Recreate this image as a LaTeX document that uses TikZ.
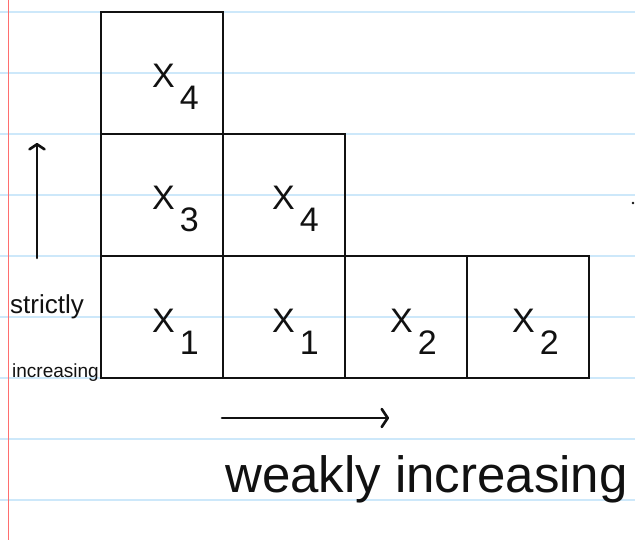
\documentclass[tikz,border=0pt]{standalone}
\usepackage{fontspec}
\setmainfont{Liberation Sans}
\definecolor{ruleBlue}{HTML}{CDE8FA}
\definecolor{marginRed}{HTML}{FF6E6E}
\definecolor{inkBlack}{HTML}{111111}
\usepackage{tikz}
\usetikzlibrary{arrows.meta}

\newcommand{\xentry}[1]{X\hspace{5pt}\raisebox{-22pt}{#1}}

\begin{document}
\begin{tikzpicture}[x=1pt, y=-1pt,
    cell/.style={draw=inkBlack, line width=2.8pt, minimum size=122pt, inner sep=0pt},
    entry/.style={font=\fontsize{34}{34}\selectfont, inner sep=0pt, text=inkBlack, anchor=base west},
    hand/.style={draw=inkBlack, line width=2.6pt, line cap=round}]
  \useasboundingbox (0,0) rectangle (635,540);
  \fill[white] (0,0) rectangle (635,540);
  % ruled paper
  \foreach \y in {12,73,...,500}
    \draw[ruleBlue, line width=1.2pt] (0,\y) -- (635,\y);
  \draw[marginRed, line width=1pt] (8,0) -- (8,540);

  % tableau cells
  \node[cell] (t1) at (162,73) {};
  \node[cell] (m1) at (162,195) {};
  \node[cell] (m2) at (284,195) {};
  \node[cell] (b1) at (162,317) {};
  \node[cell] (b2) at (284,317) {};
  \node[cell] (b3) at (406,317) {};
  \node[cell] (b4) at (528,317) {};

  % entries
  \node[entry] (e-t1) at ([xshift=-10pt,yshift=-15pt]t1.center) {\xentry{4}};
  \node[entry] (e-m1) at ([xshift=-10pt,yshift=-15pt]m1.center) {\xentry{3}};
  \node[entry] (e-m2) at ([xshift=-12pt,yshift=-15pt]m2.center) {\xentry{4}};
  \node[entry] (e-b1) at ([xshift=-10pt,yshift=-15pt]b1.center) {\xentry{1}};
  \node[entry] (e-b2) at ([xshift=-12pt,yshift=-15pt]b2.center) {\xentry{1}};
  \node[entry] (e-b3) at ([xshift=-16pt,yshift=-15pt]b3.center) {\xentry{2}};
  \node[entry] (e-b4) at ([xshift=-16pt,yshift=-15pt]b4.center) {\xentry{2}};

  % directions
  \coordinate (upS) at (37,258);
  \coordinate (upE) at (37,143);
  \draw[hand, -{Straight Barb[length=5pt,width=15pt,round]}] (upS) -- (upE);
  \coordinate (rtS) at (222,418);
  \coordinate (rtE) at (389,418);
  \draw[hand, -{Straight Barb[length=6pt,width=18pt,round]}] (rtS) -- (rtE);

  \node[font=\fontsize{26}{26}\selectfont, inner sep=0pt, anchor=base west, text=inkBlack]
    (strictLbl) at (10,313) {strictly};
  \node[font=\fontsize{19}{19}\selectfont, inner sep=0pt, anchor=base west, text=inkBlack]
    (incLbl) at (12,377) {increasing};
  \node[font=\fontsize{51}{51}\selectfont, inner sep=0pt, anchor=base west, text=inkBlack]
    (weakLbl) at (225,492) {weakly increasing};

  \fill[inkBlack] (633,203) circle (1.4);
\end{tikzpicture}
\end{document}
